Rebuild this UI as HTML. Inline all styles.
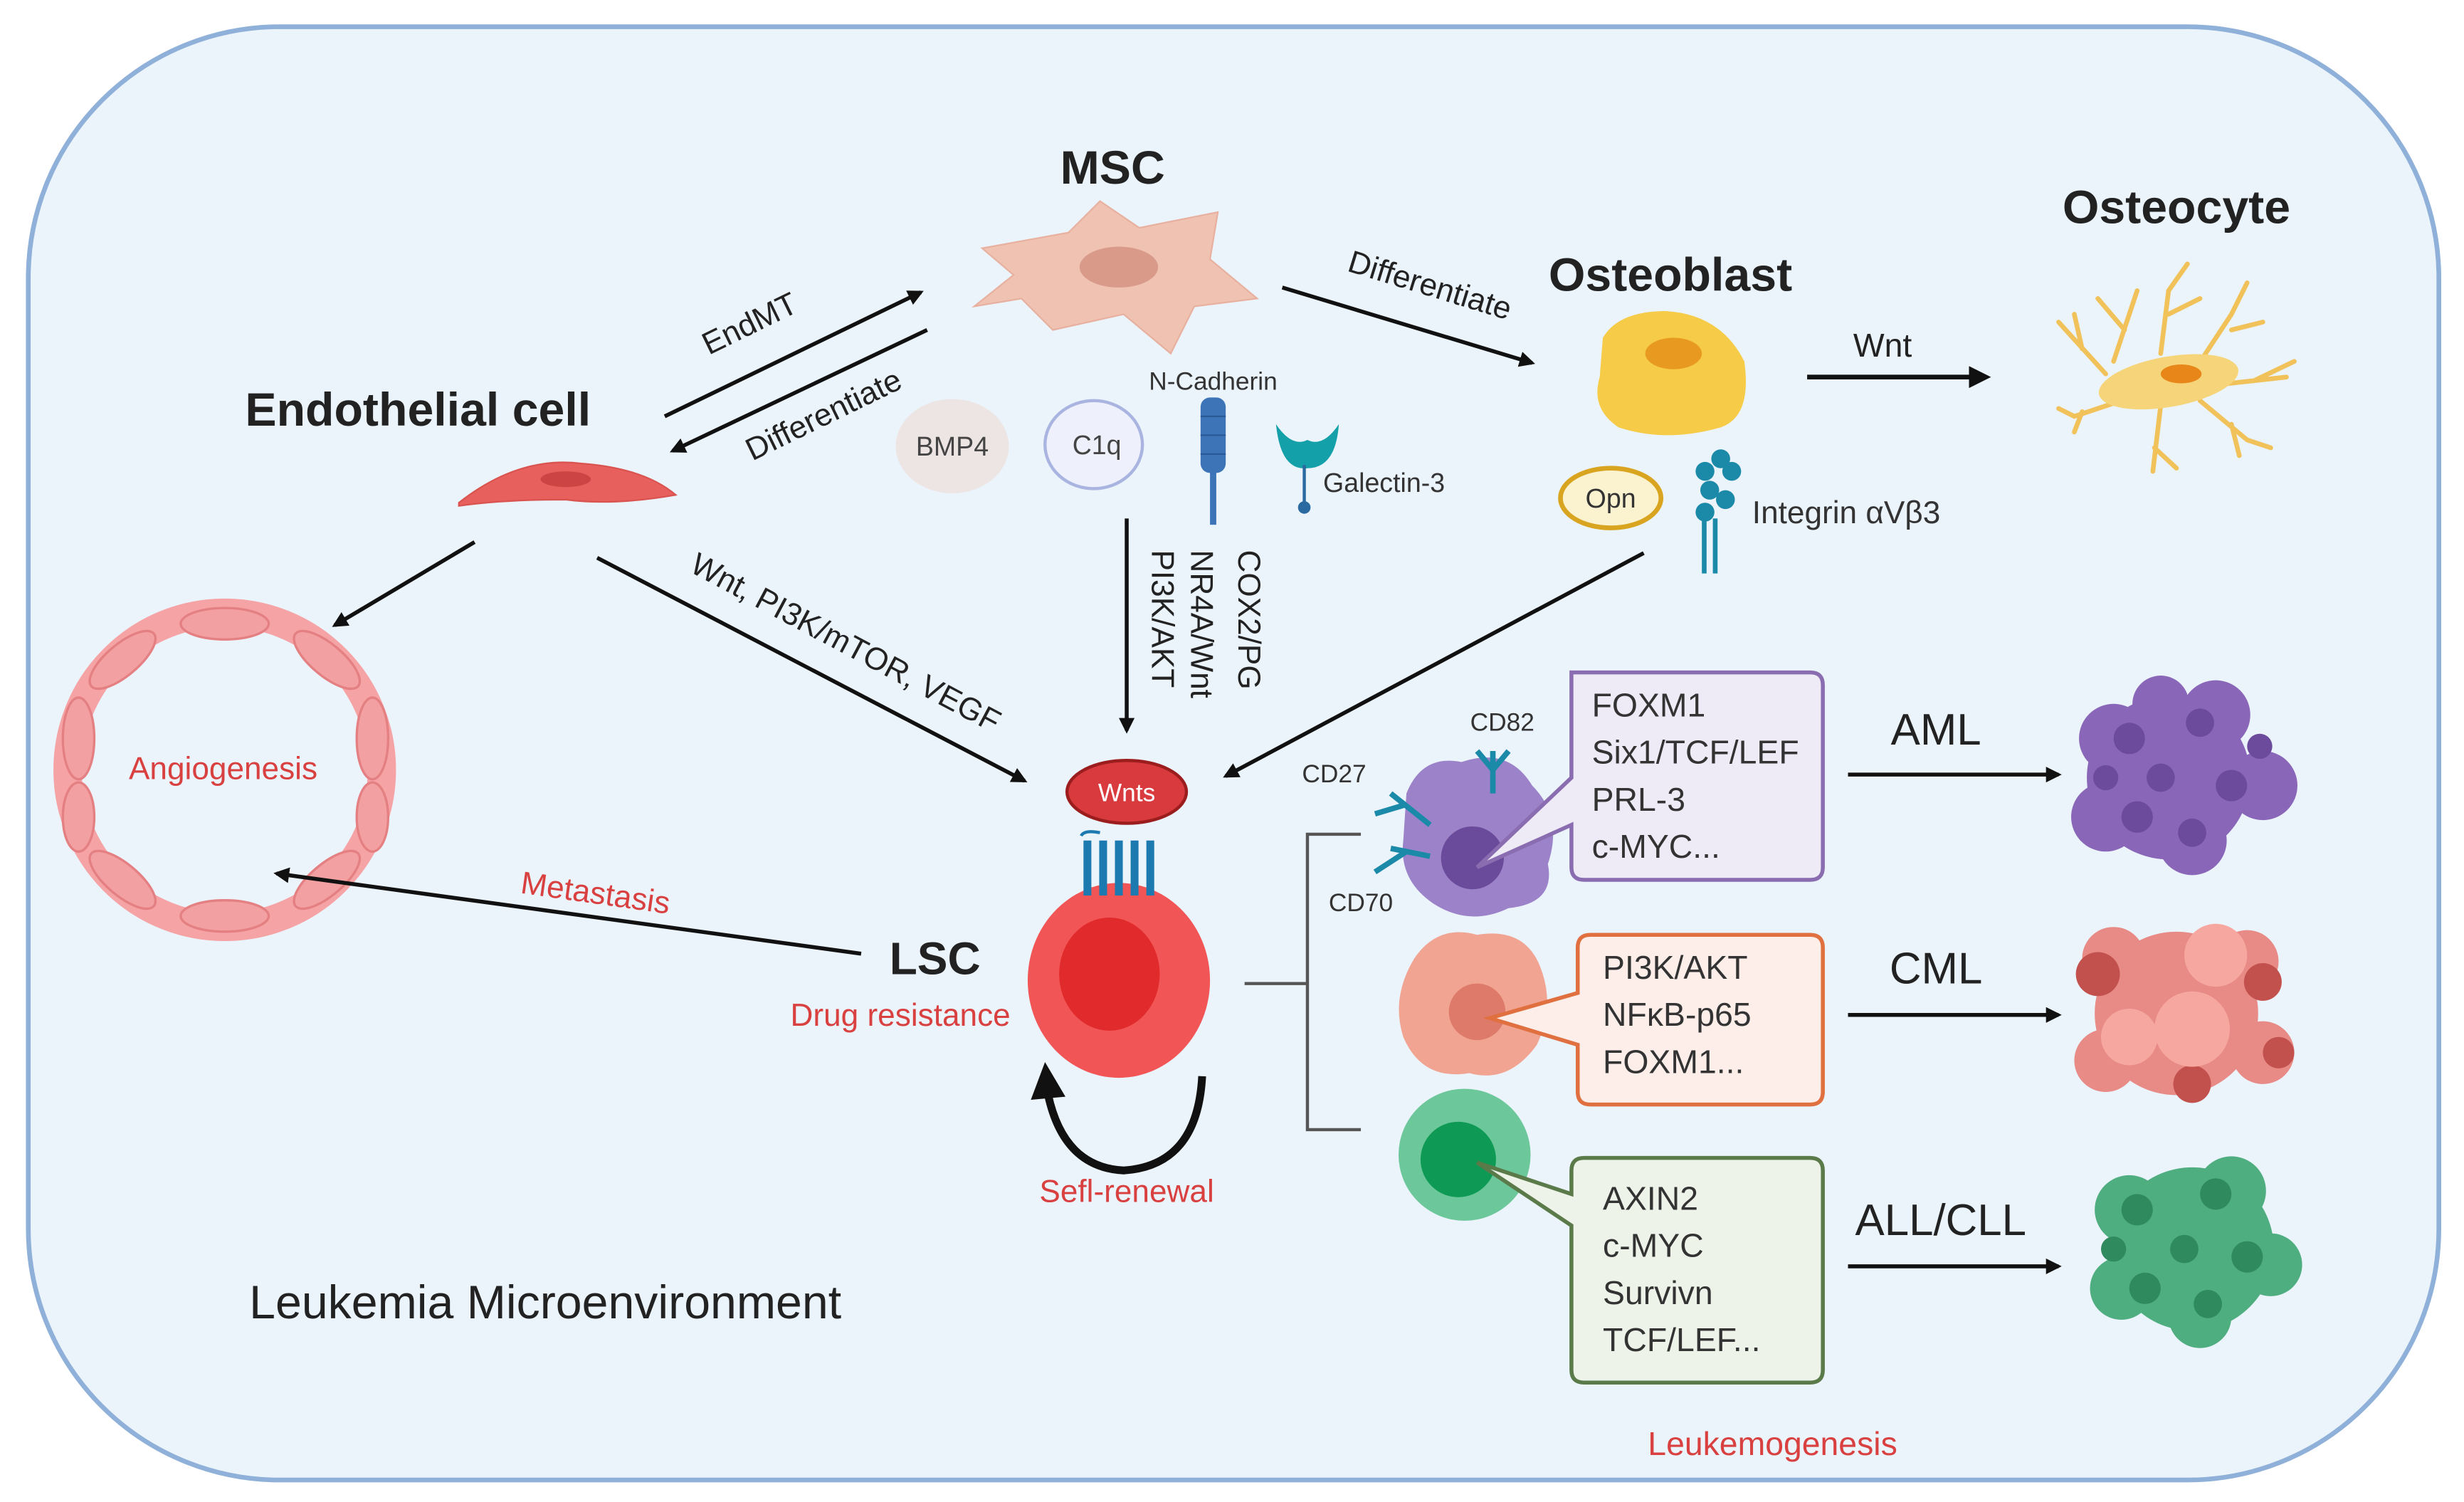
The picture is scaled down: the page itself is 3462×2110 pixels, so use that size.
<!DOCTYPE html>
<html><head><meta charset="utf-8"><style>
html,body{margin:0;padding:0;background:#fff}
svg{display:block}
text{font-family:"Liberation Sans",sans-serif}
</style></head><body>
<svg width="3462" height="2110" viewBox="0 0 1568 956" preserveAspectRatio="none" xmlns="http://www.w3.org/2000/svg">
<defs>
<marker id="ah" markerWidth="10" markerHeight="10" refX="8" refY="5" orient="auto" markerUnits="userSpaceOnUse" viewBox="0 0 10 10"><path d="M0,0 L10,5 L0,10 z" fill="#111"/></marker>
<marker id="ah2" markerWidth="14" markerHeight="14" refX="11" refY="7" orient="auto" markerUnits="userSpaceOnUse" viewBox="0 0 14 14"><path d="M0,0 L14,7 L0,14 z" fill="#111"/></marker>
</defs>
<rect x="0" y="0" width="1568" height="956" fill="#fff"/>
<rect x="18" y="17" width="1534" height="925" rx="160" ry="160" fill="#ebf3fb" stroke="#8fb0d8" stroke-width="3"/>

<text x="708" y="117" font-size="30" font-weight="bold" text-anchor="middle" fill="#222">MSC</text>
<text x="1385" y="142" font-size="30" font-weight="bold" text-anchor="middle" fill="#222">Osteocyte</text>
<text x="1063" y="185" font-size="30" font-weight="bold" text-anchor="middle" fill="#222">Osteoblast</text>
<text x="266" y="271" font-size="30" font-weight="bold" text-anchor="middle" fill="#222">Endothelial cell</text>

<path d="M625,158 L680,148 L700,128 L725,145 L775,135 L770,165 L800,190 L760,195 L745,225 L715,200 L670,210 L650,190 L620,195 L645,175 Z" fill="#f0c2b2" stroke="#e8b09e"/>
<ellipse cx="712" cy="170" rx="25" ry="13" fill="#d99a8a"/>

<path d="M292,320 Q330,290 370,295 Q410,298 430,315 Q390,322 360,318 Q320,318 292,322 Z" fill="#e8605e" stroke="#d9534f"/>
<ellipse cx="360" cy="305" rx="16" ry="5" fill="#c44"/>

<line x1="423" y1="265" x2="586" y2="186" stroke="#111" stroke-width="2.5" marker-end="url(#ah)"/>
<line x1="590" y1="210" x2="428" y2="287" stroke="#111" stroke-width="2.5" marker-end="url(#ah)"/>
<text x="480" y="212" font-size="20" fill="#222" transform="rotate(-26 480 212)" text-anchor="middle">EndMT</text>
<text x="527" y="270" font-size="20" fill="#222" transform="rotate(-26 527 270)" text-anchor="middle">Differentiate</text>

<ellipse cx="606" cy="284" rx="36" ry="30" fill="#ede5e3"/>
<text x="606" y="290" font-size="17" fill="#444" text-anchor="middle">BMP4</text>
<ellipse cx="696" cy="283" rx="31" ry="28" fill="#eef1fb" stroke="#a9b4e0" stroke-width="2"/>
<text x="698" y="289" font-size="17" fill="#444" text-anchor="middle">C1q</text>
<text x="772" y="248" font-size="16" fill="#333" text-anchor="middle">N-Cadherin</text>
<rect x="764" y="253" width="16" height="48" rx="6" fill="#3d74b8"/>
<line x1="764" y1="265" x2="780" y2="265" stroke="#2a5a95"/><line x1="764" y1="277" x2="780" y2="277" stroke="#2a5a95"/><line x1="764" y1="289" x2="780" y2="289" stroke="#2a5a95"/>
<rect x="770" y="300" width="4" height="34" fill="#3d74b8"/>
<path d="M812,270 Q815,300 832,298 Q850,298 852,270 Q842,285 832,280 Q822,285 812,270 Z" fill="#13a0a8"/>
<line x1="830" y1="296" x2="830" y2="322" stroke="#2a6aa0" stroke-width="2"/><circle cx="830" cy="323" r="4" fill="#2a6aa0"/>
<text x="842" y="313" font-size="17" fill="#333">Galectin-3</text>

<line x1="816" y1="183" x2="975" y2="231" stroke="#111" stroke-width="2.5" marker-end="url(#ah)"/>
<text x="908" y="188" font-size="20" fill="#222" transform="rotate(17 908 188)" text-anchor="middle">Differentiate</text>

<path d="M1020,215 Q1030,198 1060,198 Q1095,200 1110,230 Q1115,265 1095,272 Q1060,282 1030,272 Q1012,260 1018,240 Z" fill="#f6cb48"/>
<ellipse cx="1065" cy="225" rx="18" ry="10" fill="#e89a20"/>
<line x1="1150" y1="240" x2="1264" y2="240" stroke="#111" stroke-width="3" marker-end="url(#ah2)"/>
<text x="1198" y="227" font-size="21" fill="#222" text-anchor="middle">Wnt</text>
<g stroke="#f1c25a" stroke-width="3" fill="none" stroke-linecap="round">
<path d="M1340,238 L1310,205 M1325,222 L1320,200 M1345,230 L1360,185 M1352,210 L1335,190 M1375,225 L1380,185 L1392,168 M1380,200 L1400,190 M1395,238 L1420,200 L1430,180 M1420,210 L1440,205 M1410,245 L1455,240 M1435,242 L1460,230 M1400,255 L1430,280 L1445,285 M1420,270 L1425,290 M1375,258 L1370,300 M1371,285 L1385,298 M1350,255 L1320,265 L1310,260 M1325,262 L1320,275"/>
</g>
<ellipse cx="1380" cy="243" rx="45" ry="16" fill="#f6d57a" transform="rotate(-10 1380 243)"/>
<ellipse cx="1388" cy="238" rx="13" ry="6" fill="#e8861a"/>

<ellipse cx="1025" cy="317" rx="32" ry="19" fill="#fbf2d0" stroke="#d9a520" stroke-width="3"/>
<text x="1025" y="323" font-size="17" fill="#333" text-anchor="middle">Opn</text>
<g fill="#1b8aa8"><circle cx="1085" cy="300" r="6"/><circle cx="1095" cy="292" r="6"/><circle cx="1102" cy="300" r="6"/><circle cx="1088" cy="312" r="6"/><circle cx="1098" cy="318" r="6"/><circle cx="1085" cy="326" r="6"/></g>
<rect x="1083" y="330" width="3" height="35" fill="#1b8aa8"/><rect x="1090" y="330" width="3" height="35" fill="#1b8aa8"/>
<text x="1115" y="333" font-size="20" fill="#333">Integrin αVβ3</text>

<line x1="717" y1="330" x2="717" y2="465" stroke="#111" stroke-width="2.5" marker-end="url(#ah)"/>
<text x="733" y="350" font-size="20" fill="#222" transform="rotate(90 733 350)">PI3K/AKT</text>
<text x="758" y="350" font-size="20" fill="#222" transform="rotate(90 758 350)">NR4A/Wnt</text>
<text x="788" y="350" font-size="20" fill="#222" transform="rotate(90 788 350)">COX2/PG</text>

<line x1="302" y1="345" x2="213" y2="398" stroke="#111" stroke-width="2.5" marker-end="url(#ah)"/>
<line x1="380" y1="355" x2="652" y2="497" stroke="#111" stroke-width="2.5" marker-end="url(#ah)"/>
<text x="535" y="415" font-size="20" fill="#222" transform="rotate(28 535 415)" text-anchor="middle">Wnt, PI3K/mTOR, VEGF</text>
<line x1="1046" y1="352" x2="780" y2="494" stroke="#111" stroke-width="2.5" marker-end="url(#ah)"/>

<ellipse cx="143" cy="490" rx="100" ry="100" fill="none" stroke="#f5a3a5" stroke-width="18"/>
<g fill="#f2a0a2" stroke="#e47f82" stroke-width="1.5">
<ellipse cx="143" cy="397" rx="28" ry="10"/><ellipse cx="143" cy="583" rx="28" ry="10"/>
<ellipse cx="78" cy="420" rx="26" ry="10" transform="rotate(-40 78 420)"/><ellipse cx="208" cy="420" rx="26" ry="10" transform="rotate(40 208 420)"/>
<ellipse cx="78" cy="560" rx="26" ry="10" transform="rotate(40 78 560)"/><ellipse cx="208" cy="560" rx="26" ry="10" transform="rotate(-40 208 560)"/>
<ellipse cx="50" cy="470" rx="10" ry="26"/><ellipse cx="50" cy="520" rx="10" ry="22"/><ellipse cx="237" cy="470" rx="10" ry="26"/><ellipse cx="237" cy="520" rx="10" ry="22"/>
</g>
<text x="142" y="496" font-size="20" fill="#d94040" text-anchor="middle">Angiogenesis</text>

<line x1="548" y1="607" x2="176" y2="556" stroke="#111" stroke-width="2.5" marker-end="url(#ah)"/>
<text x="378" y="575" font-size="20" fill="#d94040" transform="rotate(8 378 575)" text-anchor="middle">Metastasis</text>
<text x="595" y="620" font-size="29" font-weight="bold" fill="#222" text-anchor="middle">LSC</text>
<text x="573" y="653" font-size="20" fill="#d94040" text-anchor="middle">Drug resistance</text>

<ellipse cx="712" cy="624" rx="58" ry="62" fill="#f25556"/>
<ellipse cx="706" cy="620" rx="32" ry="36" fill="#e02a2c"/>
<ellipse cx="717" cy="504" rx="38" ry="20" fill="#d93a3d" stroke="#9b1d1d" stroke-width="2"/>
<text x="717" y="510" font-size="16" fill="#fff" text-anchor="middle">Wnts</text>
<g fill="none" stroke="#1d7ab0" stroke-width="5"><path d="M692,570 V535 M702,570 V535 M712,570 V535 M722,570 V535 M732,570 V535"/></g>
<path d="M688,532 Q690,528 700,530" stroke="#1d7ab0" fill="none" stroke-width="2"/>
<path d="M765,685 Q762,742 715,745 Q677,743 667,697" fill="none" stroke="#111" stroke-width="5"/>
<path d="M656,700 L665,676 L678,698 Z" fill="#111"/>
<text x="717" y="765" font-size="20" fill="#d94040" text-anchor="middle">Sefl-renewal</text>

<path d="M792,626 H832 M866,531 H832 V719 H866" fill="none" stroke="#555" stroke-width="2"/>

<path d="M895,505 Q905,480 930,485 Q960,475 975,500 Q995,520 985,550 Q990,575 960,578 Q935,590 912,575 Q890,560 893,535 Z" fill="#9b82c9"/>
<circle cx="937" cy="546" r="20" fill="#6a4a9a"/>
<g stroke="#1b8aa8" stroke-width="3.5" fill="none"><path d="M950,505 V478 M950,490 L940,478 M950,490 L960,478 M910,525 L885,505 M895,512 L875,518 M910,545 L885,540 M895,542 L875,555"/></g>
<text x="956" y="465" font-size="16" fill="#333" text-anchor="middle">CD82</text>
<text x="849" y="498" font-size="16" fill="#333" text-anchor="middle">CD27</text>
<text x="866" y="580" font-size="16" fill="#333" text-anchor="middle">CD70</text>
<path d="M1000,428 H1152 Q1160,428 1160,436 V552 Q1160,560 1152,560 H1008 Q1000,560 1000,552 V525 L940,552 L1000,495 Z" fill="#efebf6" stroke="#8a6db0" stroke-width="2.5"/>
<g font-size="21" fill="#333"><text x="1013" y="456">FOXM1</text><text x="1013" y="486">Six1/TCF/LEF</text><text x="1013" y="516">PRL-3</text><text x="1013" y="546">c-MYC...</text></g>

<path d="M900,610 Q915,588 940,595 Q970,590 980,615 Q990,640 978,665 Q960,690 935,683 Q905,688 893,660 Q885,635 900,610 Z" fill="#f2a493"/>
<circle cx="940" cy="644" r="18" fill="#de7a6a"/>
<path d="M1012,595 H1152 Q1160,595 1160,603 V695 Q1160,703 1152,703 H1012 Q1004,703 1004,695 V665 L948,648 L1004,632 V603 Q1004,595 1012,595 Z" fill="#fdeeea" stroke="#e07040" stroke-width="2.5"/>
<g font-size="21" fill="#333"><text x="1020" y="623">PI3K/AKT</text><text x="1020" y="653">NFκB-p65</text><text x="1020" y="683">FOXM1...</text></g>

<circle cx="932" cy="735" r="42" fill="#6cc79a"/>
<circle cx="928" cy="738" r="24" fill="#0e9a55"/>
<path d="M1008,737 H1152 Q1160,737 1160,745 V872 Q1160,880 1152,880 H1008 Q1000,880 1000,872 V780 L940,740 L1000,760 V745 Q1000,737 1008,737 Z" fill="#eef3ea" stroke="#5a7a4a" stroke-width="2.5"/>
<g font-size="21" fill="#333"><text x="1020" y="770">AXIN2</text><text x="1020" y="800">c-MYC</text><text x="1020" y="830">Survivn</text><text x="1020" y="860">TCF/LEF...</text></g>

<line x1="1176" y1="493" x2="1310" y2="493" stroke="#111" stroke-width="2.5" marker-end="url(#ah)"/>
<line x1="1176" y1="646" x2="1310" y2="646" stroke="#111" stroke-width="2.5" marker-end="url(#ah)"/>
<line x1="1176" y1="806" x2="1310" y2="806" stroke="#111" stroke-width="2.5" marker-end="url(#ah)"/>
<text x="1232" y="474" font-size="28" fill="#222" text-anchor="middle">AML</text>
<text x="1232" y="626" font-size="28" fill="#222" text-anchor="middle">CML</text>
<text x="1235" y="786" font-size="28" fill="#222" text-anchor="middle">ALL/CLL</text>

<g fill="#8a66b8"><circle cx="1380" cy="495" r="52"/><circle cx="1345" cy="470" r="22"/><circle cx="1410" cy="455" r="22"/><circle cx="1440" cy="500" r="22"/><circle cx="1395" cy="535" r="22"/><circle cx="1340" cy="520" r="22"/><circle cx="1375" cy="448" r="18"/></g>
<g fill="#6c4a9c"><circle cx="1355" cy="470" r="10"/><circle cx="1400" cy="460" r="9"/><circle cx="1420" cy="500" r="10"/><circle cx="1360" cy="520" r="10"/><circle cx="1395" cy="530" r="9"/><circle cx="1375" cy="495" r="9"/><circle cx="1438" cy="475" r="8"/><circle cx="1340" cy="495" r="8"/></g>
<g fill="#e88a86"><circle cx="1385" cy="645" r="52"/><circle cx="1345" cy="610" r="20"/><circle cx="1430" cy="612" r="20"/><circle cx="1440" cy="670" r="20"/><circle cx="1340" cy="675" r="20"/></g>
<g fill="#c2504c"><circle cx="1335" cy="620" r="14"/><circle cx="1440" cy="625" r="12"/><circle cx="1395" cy="690" r="12"/><circle cx="1450" cy="670" r="10"/></g>
<g fill="#f6a8a0"><circle cx="1395" cy="655" r="24"/><circle cx="1410" cy="608" r="20"/><circle cx="1355" cy="660" r="18"/></g>
<g fill="#4fae80"><circle cx="1395" cy="795" r="52"/><circle cx="1355" cy="770" r="22"/><circle cx="1420" cy="758" r="22"/><circle cx="1445" cy="805" r="20"/><circle cx="1400" cy="838" r="20"/><circle cx="1350" cy="820" r="20"/></g>
<g fill="#2f8a5e"><circle cx="1360" cy="770" r="10"/><circle cx="1410" cy="760" r="10"/><circle cx="1430" cy="800" r="10"/><circle cx="1365" cy="820" r="10"/><circle cx="1405" cy="830" r="9"/><circle cx="1390" cy="795" r="9"/><circle cx="1345" cy="795" r="8"/></g>

<text x="347" y="839" font-size="30" fill="#222" text-anchor="middle">Leukemia Microenvironment</text>
<text x="1128" y="926" font-size="21" fill="#d94040" text-anchor="middle">Leukemogenesis</text>
</svg>
</body></html>
